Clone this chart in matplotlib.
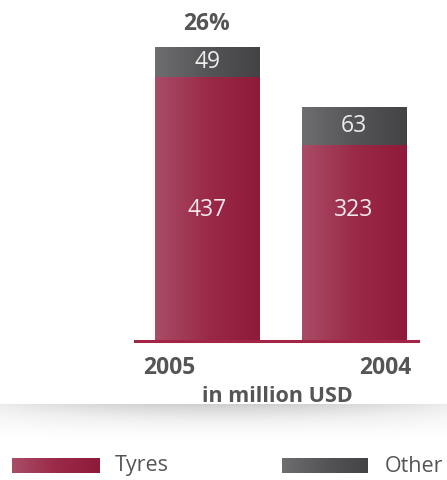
import numpy as np
import matplotlib.pyplot as plt
from matplotlib.colors import LinearSegmentedColormap

plt.rcParams['font.family'] = ['Open Sans', 'DejaVu Sans']

years = ['2005', '2004']
tyres = [437, 323]
other = [49, 63]
share_label = '26%'

red_cmap = LinearSegmentedColormap.from_list('red', ['#a94d67', '#9a2a48', '#8f1a39'])
grey_cmap = LinearSegmentedColormap.from_list('grey', ['#6e6e70', '#555557', '#434345'])
text_grey = '#555555'

fig = plt.figure(figsize=(4.47, 4.8), dpi=100)

# bar area: baseline sits at y=340px, axis spans x 135..418px
ax = fig.add_axes([135 / 447, 140 / 480, 283 / 447, 320 / 480])
x = np.arange(len(years))
width = 0.71

grad = np.linspace(0, 1, 256).reshape(1, -1)


def gradient_bars(rects, cmap):
    for r in rects:
        x0, y0 = r.get_x(), r.get_y()
        w, h = r.get_width(), r.get_height()
        im = ax.imshow(grad, cmap=cmap, aspect='auto',
                       extent=(x0, x0 + w, y0, y0 + h), zorder=2)
        im.set_clip_path(r)
        r.set_alpha(0)


b1 = ax.bar(x, tyres, width, color='#9a2a48', linewidth=0)
b2 = ax.bar(x, other, width, bottom=tyres, color='#555557', linewidth=0)
gradient_bars(b1, red_cmap)
gradient_bars(b2, grey_cmap)
ax.set_xlim(-0.49, 1.435)
ax.set_ylim(0, 531)
ax.axis('off')

# baseline in the bar colour
ax.axhline(-1.5, color='#a32545', lw=2.2, zorder=3, clip_on=False)

for xi, t, o in zip(x, tyres, other):
    ax.text(xi, 215, str(t), ha='center', va='center', color='#f3e9ec',
            fontsize=16.5, zorder=4)
    ax.text(xi, t + o / 2, str(o), ha='center', va='center', color='#ececec',
            fontsize=16.5, zorder=4)

ax.text(x[0], tyres[0] + other[0] + 38, share_label, ha='center', va='center',
        color=text_grey, fontsize=16.5, fontweight='bold')

# year labels and unit
fig.text(169 / 447, 1 - 368 / 480, years[0], ha='center', va='center',
         color=text_grey, fontsize=16.5, fontweight='bold')
fig.text(385 / 447, 1 - 368 / 480, years[1], ha='center', va='center',
         color=text_grey, fontsize=16.5, fontweight='bold')
fig.text(277 / 447, 1 - 396 / 480, 'in million USD', ha='center', va='center',
         color=text_grey, fontsize=15.5, fontweight='bold')

# soft shadow band under the chart
band = fig.add_axes([0, 1 - 441 / 480, 1, 37 / 480])
yy = np.linspace(0, 1, 60).reshape(-1, 1)
xx = np.linspace(-1, 1, 447).reshape(1, -1)
shade = (yy ** 1.5) * (1 - 0.5 * xx ** 2)
band.imshow(shade, cmap='Greys', vmin=0, vmax=3.2, aspect='auto',
            origin='lower', extent=(0, 1, 1, 0))
band.axis('off')

# legend
leg = fig.add_axes([0, 0, 1, 1], facecolor='none')
leg.imshow(grad, cmap=red_cmap, aspect='auto', extent=(12, 100, 473, 458))
leg.imshow(grad, cmap=grey_cmap, aspect='auto', extent=(282, 368, 473, 458))
leg.set_xlim(0, 447)
leg.set_ylim(480, 0)
leg.axis('off')
leg.text(115, 466, 'Tyres', ha='left', va='center', color=text_grey, fontsize=15.5)
leg.text(385, 466, 'Other', ha='left', va='center', color=text_grey, fontsize=15.5)

fig.savefig('out.png', dpi=100)
